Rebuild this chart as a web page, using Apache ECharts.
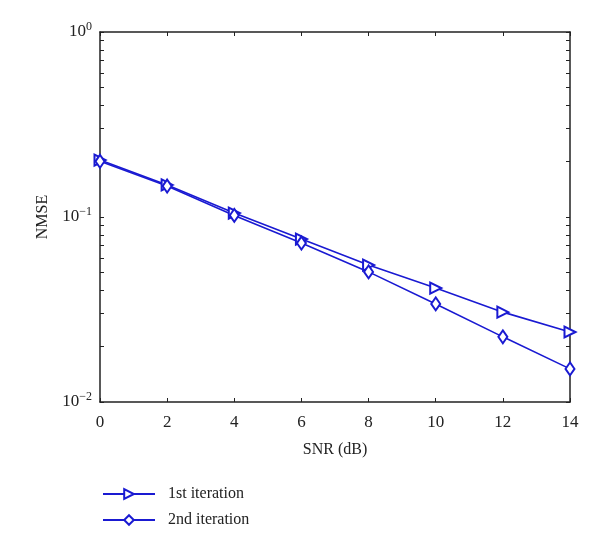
<!DOCTYPE html>
<html>
<head>
<meta charset="utf-8">
<script src="https://cdn.jsdelivr.net/npm/echarts@6/dist/echarts.min.js"></script>
<style>
  html, body { margin: 0; padding: 0; background: #fff; }
  #chart { width: 600px; height: 547px; }
</style>
</head>
<body>
<div id="chart"></div>
<script>
// SNR values (dB)
const snr = [0, 2, 4, 6, 8, 10, 12, 14]
// NMSE
const firstIter = [0.203, 0.149, 0.105, 0.076, 0.055, 0.0413, 0.0306, 0.0239]
const secondIter = [0.200, 0.147, 0.102, 0.0723, 0.0505, 0.0339, 0.0225, 0.0151]
const seriesNames = ['1st iteration', '2nd iteration']
// minor tick positions for the log axis
const logTicks = [0.01, 0.02, 0.03, 0.04, 0.05, 0.06, 0.07, 0.08, 0.09,
  0.1, 0.2, 0.3, 0.4, 0.5, 0.6, 0.7, 0.8, 0.9, 1]

const blue = '#1a1ad2'
const frame = '#222'
const serif = '"Liberation Serif", "DejaVu Serif", serif'

const chart = echarts.init(document.getElementById('chart'), null, { renderer: 'canvas' })

function pairs(ys) {
  return snr.map((x, i) => [x, ys[i]])
}

const xCommon = {
  type: 'value',
  min: 0,
  max: 14,
  interval: 2,
  axisLine: { show: true, onZero: false, lineStyle: { color: frame, width: 1.5 } },
  axisTick: { show: true, inside: true, length: 4, lineStyle: { color: frame } },
  splitLine: { show: false }
}
const yCommon = {
  type: 'log',
  logBase: 10,
  min: 0.01,
  max: 1,
  axisLine: { show: true, onZero: false, lineStyle: { color: frame, width: 1.5 } },
  axisTick: { show: true, inside: true, length: 4, customValues: logTicks, lineStyle: { color: frame } },
  splitLine: { show: false }
}

chart.setOption({
  backgroundColor: '#fff',
  animation: false,
  grid: { left: 100, right: 30, top: 32, bottom: 145 },
  legend: {
    orient: 'vertical',
    left: 97,
    top: 481,
    itemWidth: 52,
    itemHeight: 12,
    itemGap: 10,
    textStyle: { fontFamily: serif, fontSize: 16, color: '#222', padding: [0, 0, 0, 8] },
    data: seriesNames
  },
  xAxis: [
    Object.assign({}, xCommon, {
      position: 'bottom',
      name: 'SNR (dB)',
      nameLocation: 'middle',
      nameGap: 40,
      nameTextStyle: { fontFamily: serif, fontSize: 16, color: '#222' },
      axisLabel: { fontFamily: serif, fontSize: 17, color: '#222', margin: 12 }
    }),
    Object.assign({}, xCommon, { position: 'top', axisLabel: { show: false } })
  ],
  yAxis: [
    Object.assign({}, yCommon, {
      position: 'left',
      name: 'NMSE',
      nameLocation: 'middle',
      nameGap: 49,
      nameTextStyle: { fontFamily: serif, fontSize: 16, color: '#222' },
      axisLabel: {
        margin: 8,
        formatter: function (v) {
          const e = Math.round(Math.log10(v))
          return '{b|10}{s|' + e.toString().replace('-', '\u2212') + '}'
        },
        rich: {
          b: { fontFamily: serif, fontSize: 17, color: '#222' },
          s: { fontFamily: serif, fontSize: 12, color: '#222', verticalAlign: 'top', padding: [0, 0, 10, 0] }
        }
      }
    }),
    Object.assign({}, yCommon, { position: 'right', axisLabel: { show: false } })
  ],
  series: [
    {
      name: seriesNames[0],
      type: 'line',
      data: pairs(firstIter),
      symbol: 'emptyTriangle',
      symbolRotate: -90,
      symbolSize: 11,
      lineStyle: { color: blue, width: 1.6 },
      itemStyle: { color: blue, borderWidth: 1.5 }
    },
    {
      name: seriesNames[1],
      type: 'line',
      data: pairs(secondIter),
      symbol: 'emptyDiamond',
      symbolSize: [9, 13],
      lineStyle: { color: blue, width: 1.6 },
      itemStyle: { color: blue, borderWidth: 1.5 }
    }
  ]
})
</script>
</body>
</html>
